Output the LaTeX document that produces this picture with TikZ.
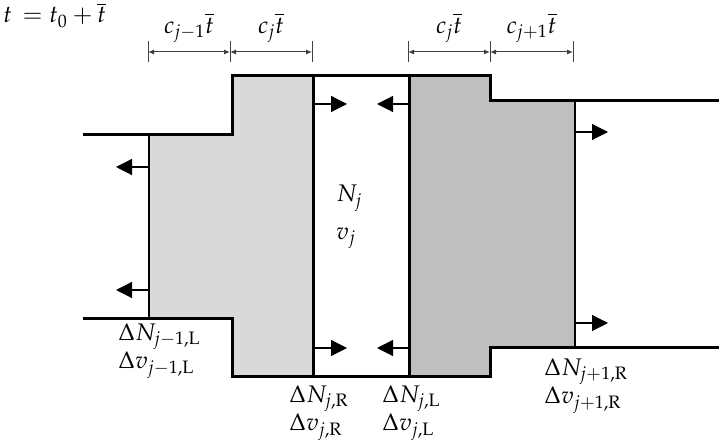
\documentclass[tikz,border=0pt]{standalone}
\usepackage{mathpazo}
\usetikzlibrary{arrows.meta}
\tikzset{
  outline/.style={line width=1.5pt},
  flowarrow/.style={line width=0.6pt, -{Triangle[length=8pt,width=8pt]}},
  dimline/.style={line width=0.5pt, black!75, {Latex[length=3pt,width=2.5pt]}-{Latex[length=3pt,width=2.5pt]}},
  dimtick/.style={line width=0.5pt, black!75},
  dimlabel/.style={above=1pt, text=black},
  lbl/.style={anchor=north west, inner sep=0pt, align=left}
}
\begin{document}
\begin{tikzpicture}[x=0.5pt, y=0.5pt, every node/.style={font=\fontsize{12}{12.5}\selectfont}]
\useasboundingbox (0,0) rectangle (719,444);
% shaded cells
\fill[black!15] (149,309) -- (232,309) -- (232,368) -- (313,368) -- (313,67) -- (232,67) -- (232,125) -- (149,125) -- cycle;
\fill[black!25] (409,368) -- (490,368) -- (490,343) -- (575,343) -- (575,96) -- (490,96) -- (490,67) -- (409,67) -- cycle;
% cell walls
\draw[line width=1.1pt] (149,309) -- (149,125);
\draw[outline] (313,368) -- (313,67);
\draw[outline] (409,368) -- (409,67);
\draw[line width=1.1pt] (575,343) -- (575,96);
% duct
\draw[outline] (83,309) -- (232,309) -- (232,368) -- (490,368) -- (490,343) -- (719,343);
\draw[outline] (83,125) -- (232,125) -- (232,67) -- (490,67) -- (490,96) -- (719,96);
% waves
\draw[flowarrow] (149,277) -- ++(-33,0);
\draw[flowarrow] (149,154) -- ++(-33,0);
\draw[flowarrow] (313,340) -- ++(34,0);
\draw[flowarrow] (313,96) -- ++(34,0);
\draw[flowarrow] (409,340) -- ++(-32,0);
\draw[flowarrow] (409,96) -- ++(-32,0);
\draw[flowarrow] (575,312) -- ++(33,0);
\draw[flowarrow] (575,121) -- ++(33,0);
% distances
\foreach \x in {148,230,312,408,490,573}
  \draw[dimtick] (\x,382) -- (\x,403);
\draw[dimline] (148,392) -- node[dimlabel] (cjm) {$c_{j-1}\overline{t}$} (230,392);
\draw[dimline] (230,392) -- node[dimlabel] (cj) {$c_{j}\overline{t}$} (312,392);
\draw[dimline] (408,392) -- node[dimlabel] (cjb) {$c_{j}\overline{t}$} (490,392);
\draw[dimline] (490,392) -- node[dimlabel] (cjp) {$c_{j+1}\overline{t}$} (573,392);
% labels
\node[anchor=west, inner sep=0pt] (time) at (3,429) {$t \,= t_0 + \overline{t}$};
\node[anchor=west, inner sep=0pt] (Nj) at (336,246) {$N_j$};
\node[anchor=west, inner sep=0pt] (vj) at (336,206) {$v_j$};
\node[lbl] (dLm) at (118,121) {$\Delta N_{j-1,\mathrm{L}}$\\$\Delta v_{j-1,\mathrm{L}}$};
\node[lbl] (dR) at (289,59) {$\Delta N_{j,\mathrm{R}}$\\$\Delta v_{j,\mathrm{R}}$};
\node[lbl] (dL) at (382,59) {$\Delta N_{j,\mathrm{L}}$\\$\Delta v_{j,\mathrm{L}}$};
\node[lbl] (dRp) at (544,86) {$\Delta N_{j+1,\mathrm{R}}$\\$\Delta v_{j+1,\mathrm{R}}$};
\end{tikzpicture}
\end{document}
